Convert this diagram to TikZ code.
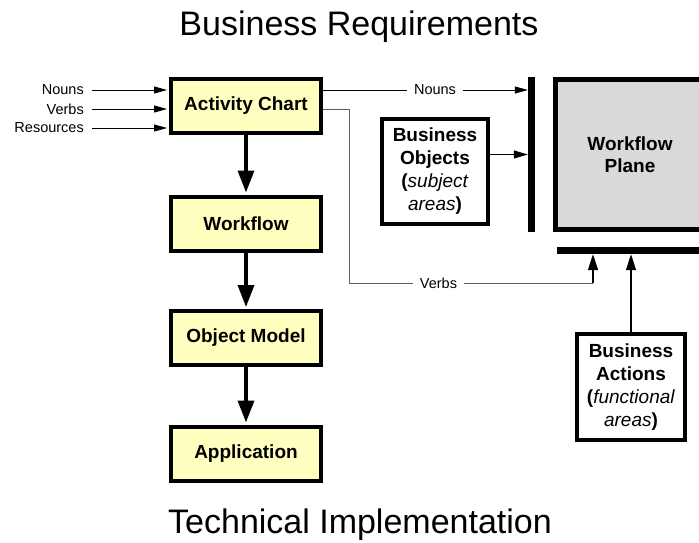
\documentclass[tikz,border=0pt]{standalone}
\usepackage{fontspec}
\setmainfont{Liberation Sans}
\usetikzlibrary{arrows.meta,calc}
\definecolor{stagefill}{RGB}{255,255,192}
\definecolor{planefill}{RGB}{217,217,217}
\definecolor{wireline}{RGB}{95,95,95}

\tikzset{
  stage/.style={draw, line width=4pt, fill=stagefill, minimum width=150pt,
    minimum height=54pt, inner sep=0pt, font=\fontsize{19}{23}\selectfont\bfseries},
  sourcebox/.style={draw, line width=4pt, fill=white, align=center, inner sep=0pt,
    font=\fontsize{19}{23}\selectfont},
  bar/.style={fill=black, inner sep=0pt},
  flowarrow/.style={line width=3.5pt, -{Triangle[length=22pt,width=16pt]}},
  feed/.style={line width=0.8pt, -{Triangle[length=13pt,width=7pt]}},
  uparrow/.style={line width=1.6pt, -{Triangle[length=16pt,width=10pt]}},
  lbl/.style={font=\fontsize{14.5}{16}\selectfont, inner ysep=0pt},
  title/.style={anchor=base, font=\fontsize{34}{40}\selectfont},
}

\begin{document}
\begin{tikzpicture}[x=1pt,y=-1pt]
\clip (0,0) rectangle (699,542);
\fill[white] (0,0) rectangle (699,542);

% headings
\node[title] (req) at (359,35) {Business Requirements};
\node[title] (impl) at (360,533) {Technical Implementation};

% development stages
\node[stage] (ac)  at (246,106)   {Activity Chart};
\node[stage] (wf)  at (246,223.5) {Workflow};
\node[stage] (om)  at (246,338)   {Object Model};
\node[stage] (app) at (246,453.5) {Application};
\foreach \n in {ac,wf,om,app}
  \draw[line width=0.9pt] ([shift={(3.5,3.5)}]\n.north west) rectangle ([shift={(-3.5,-3.5)}]\n.south east);

\draw[flowarrow, shorten >=2pt] (ac.south) -- (wf.north);
\draw[flowarrow, shorten >=2pt] (wf.south) -- (om.north);
\draw[flowarrow, shorten >=2pt] (om.south) -- (app.north);

% inputs of the activity chart
\node[lbl, anchor=east, inner xsep=8pt] (inN) at (92,90)  {Nouns};
\node[lbl, anchor=east, inner xsep=8pt] (inV) at (92,109) {Verbs};
\node[lbl, anchor=east, inner xsep=8pt] (inR) at (92,128) {Resources};
\foreach \n in {inN,inV,inR}
  \draw[feed, shorten >=2pt] (\n.east) -- (\n.east -| ac.west);

% workflow plane and its two input bars
\node[draw, line width=5pt, fill=planefill, minimum width=149pt, minimum height=150pt,
  align=center, font=\fontsize{19}{22}\selectfont\bfseries] (plane) at (630,154.5) {Workflow\\Plane};
\node[bar, minimum width=7pt, minimum height=155pt] (nbar) at (531.5,154.5) {};
\node[bar, minimum width=163pt, minimum height=7pt] (vbar) at (638.5,250.5) {};

% business objects feed the noun bar
\node[sourcebox, minimum width=106pt, minimum height=105pt] (bo) at (435,171.5)
  {\textbf{Business}\\\textbf{Objects}\\\textbf{(}\textit{subject}\\\textit{areas}\textbf{)}};
\draw[line width=1pt, -{Triangle[length=14pt,width=8pt]}] ([yshift=17pt]bo.east) -- ([yshift=17pt]bo.east -| nbar.west);

% nouns from the activity chart
\node[lbl, inner xsep=7pt] (nlab) at (435,90) {Nouns};
\draw[line width=0.8pt] ([yshift=16pt]ac.east) -- (nlab.west);
\draw[feed] (nlab.east) -- (nlab.east -| nbar.west);

% verbs from the activity chart
\node[lbl, inner xsep=7pt] (vlab) at (438.5,283) {Verbs};
\coordinate (vknee) at (349,283);
\coordinate (vup) at (593,283);
\draw[wireline, line width=0.8pt] ([yshift=-3pt]ac.east) -| (vknee) -- (vlab.west);
\draw[wireline, line width=0.8pt] (vlab.east) -- (vup);
\draw[uparrow] (vup) -- (vup |- vbar.south);

% business actions feed the verb bar
\node[sourcebox, minimum width=108pt, minimum height=106pt] (ba) at (631,387)
  {\textbf{Business}\\\textbf{Actions}\\\textbf{(}\textit{functional}\\\textit{areas}\textbf{)}};
\draw[uparrow, line width=1.4pt] (ba.north) -- (ba.north |- vbar.south);
\end{tikzpicture}
\end{document}
